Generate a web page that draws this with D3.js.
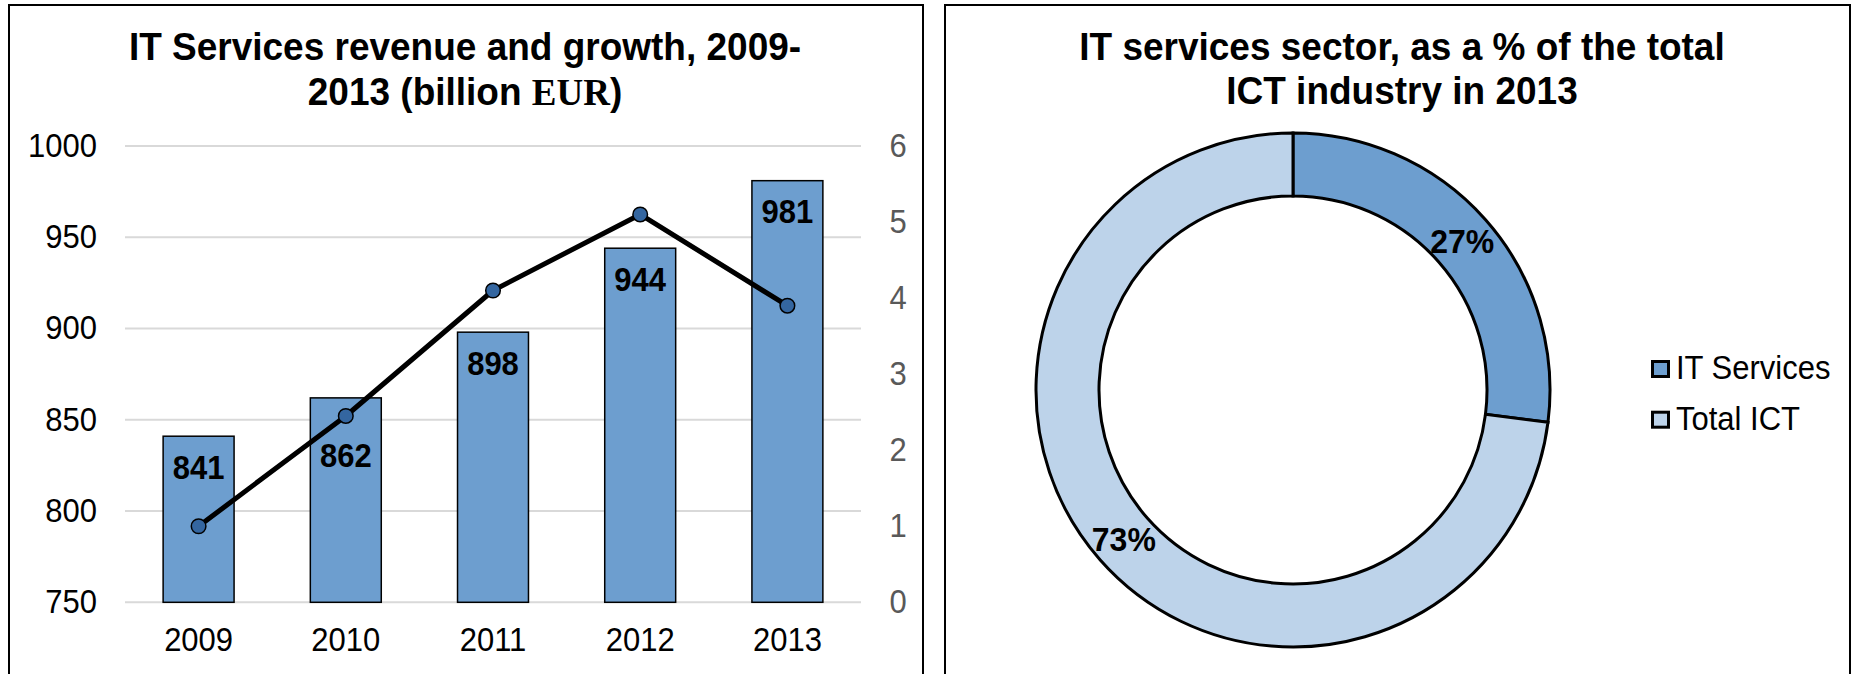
<!DOCTYPE html>
<html>
<head>
<meta charset="utf-8">
<script src="https://cdn.jsdelivr.net/npm/d3@7"></script>
<style>
  html, body { margin: 0; padding: 0; background: #fff; }
  svg { display: block; font-family: "Liberation Sans", Arial, sans-serif; }
</style>
</head>
<body>
<svg id="chart" width="1855" height="674"></svg>
<script>
// ---- Data ----
const years = ["2009", "2010", "2011", "2012", "2013"];
const revenue = [841, 862, 898, 944, 981];
const growth = [1.0, 2.45, 4.1, 5.1, 3.9];
const leftTicks = [750, 800, 850, 900, 950, 1000];
const rightTicks = [0, 1, 2, 3, 4, 5, 6];
const shareLabels = ["IT Services", "Total ICT"];
const shareValues = [27, 73];

const svg = d3.select("#chart");

// ---- Panel borders ----
svg.append("rect").attr("x", 9).attr("y", 5).attr("width", 914).attr("height", 720)
  .attr("fill", "none").attr("stroke", "#000").attr("stroke-width", 2);
svg.append("rect").attr("x", 945).attr("y", 5).attr("width", 905).attr("height", 720)
  .attr("fill", "none").attr("stroke", "#000").attr("stroke-width", 2);

// ---- Left chart ----
const x = d3.scaleBand().domain(years).range([125, 861]).paddingInner(0.518).paddingOuter(0.259);
const yL = d3.scaleLinear().domain([750, 1000]).range([602.3, 146]);
const yR = d3.scaleLinear().domain([0, 6]).range([602.3, 146]);

const title1 = svg.append("text").attr("x", 465).attr("text-anchor", "middle")
  .attr("font-weight", "bold").attr("font-size", 37).attr("fill", "#000");
title1.append("tspan").attr("x", 465).attr("y", 60).text("IT Services revenue and growth, 2009-");
const t2 = title1.append("tspan").attr("x", 465).attr("y", 103);
t2.append("tspan").text("2013 (billion ");
t2.append("tspan").attr("font-family", "'Liberation Serif', 'Times New Roman', serif").text("EUR");
t2.append("tspan").text(")");

// gridlines
svg.append("g").selectAll("line").data(leftTicks).join("line")
  .attr("x1", 125).attr("x2", 861)
  .attr("y1", d => yL(d)).attr("y2", d => yL(d))
  .attr("stroke", "#d9d9d9").attr("stroke-width", 2);

// left axis labels
const axL = svg.append("g").attr("transform", "translate(125,0)")
  .call(d3.axisLeft(yL).tickValues(leftTicks).tickSize(0).tickPadding(28).tickFormat(d3.format("d")));
axL.select(".domain").remove();
axL.selectAll("text").attr("font-size", 31).attr("fill", "#000")
  .attr("font-family", "'Liberation Sans', Arial, sans-serif");

// right axis labels
const axR = svg.append("g").attr("transform", "translate(861,0)")
  .call(d3.axisRight(yR).tickValues(rightTicks).tickSize(0).tickPadding(37).tickFormat(d3.format("d")));
axR.select(".domain").remove();
axR.selectAll("text").attr("font-size", 31).attr("fill", "#595959").attr("text-anchor", "middle")
  .attr("font-family", "'Liberation Sans', Arial, sans-serif");

// x axis labels
const axX = svg.append("g").attr("transform", "translate(0,602.3)")
  .call(d3.axisBottom(x).tickSize(0).tickPadding(26));
axX.select(".domain").remove();
axX.selectAll("text").attr("font-size", 31).attr("fill", "#000")
  .attr("font-family", "'Liberation Sans', Arial, sans-serif");

const rows = years.map((y, i) => ({ year: y, rev: revenue[i], g: growth[i] }));

// bars
svg.append("g").selectAll("rect").data(rows).join("rect")
  .attr("x", d => x(d.year)).attr("width", x.bandwidth())
  .attr("y", d => yL(d.rev)).attr("height", d => yL(750) - yL(d.rev))
  .attr("fill", "#6d9ecf").attr("stroke", "#000").attr("stroke-width", 1.5);

// bar labels (pushed below the growth marker where they would collide)
svg.append("g").selectAll("text").data(rows).join("text")
  .attr("x", d => x(d.year) + x.bandwidth() / 2)
  .attr("y", d => {
    const base = yL(d.rev) + 42;
    const my = yR(d.g);
    return (my > base - 30 && my < base + 8) ? my + 51 : base;
  })
  .attr("text-anchor", "middle").attr("font-weight", "bold").attr("font-size", 31)
  .attr("fill", "#000").text(d => d.rev);

// growth line
const line = d3.line().x(d => x(d.year) + x.bandwidth() / 2).y(d => yR(d.g));
svg.append("path").datum(rows).attr("d", line)
  .attr("fill", "none").attr("stroke", "#000").attr("stroke-width", 5).attr("stroke-linejoin", "round");
svg.append("g").selectAll("circle").data(rows).join("circle")
  .attr("cx", d => x(d.year) + x.bandwidth() / 2).attr("cy", d => yR(d.g)).attr("r", 7.3)
  .attr("fill", "#3466a0").attr("stroke", "#000").attr("stroke-width", 1.5);

// ---- Right chart ----
const title2 = svg.append("text").attr("text-anchor", "middle")
  .attr("font-weight", "bold").attr("font-size", 37).attr("fill", "#000");
title2.append("tspan").attr("x", 1402).attr("y", 60).text("IT services sector, as a % of the total");
title2.append("tspan").attr("x", 1402).attr("y", 102).text("ICT industry in 2013");

const colors = d3.scaleOrdinal().domain(shareLabels).range(["#6d9ecf", "#bdd3ea"]);
const pieData = d3.pie().sort(null).value(d => d.v)(shareLabels.map((k, i) => ({ k, v: shareValues[i] })));
const arc = d3.arc().innerRadius(194).outerRadius(257);
const donut = svg.append("g").attr("transform", "translate(1293,390)");
donut.selectAll("path").data(pieData).join("path")
  .attr("d", arc).attr("fill", d => colors(d.data.k))
  .attr("stroke", "#000").attr("stroke-width", 3);
donut.selectAll("text").data(pieData).join("text")
  .attr("transform", d => `translate(${arc.centroid(d)})`)
  .attr("text-anchor", "middle").attr("dy", "0.36em")
  .attr("font-weight", "bold").attr("font-size", 32).attr("fill", "#000")
  .text(d => d.data.v + "%");

// legend
const leg = svg.append("g").selectAll("g").data(shareLabels).join("g")
  .attr("transform", (d, i) => `translate(1651,${360 + i * 50.7})`);
leg.append("rect").attr("x", 1.5).attr("y", 1.5).attr("width", 16).attr("height", 15)
  .attr("fill", d => colors(d)).attr("stroke", "#000").attr("stroke-width", 3);
leg.append("text").attr("x", 25).attr("y", 18.5).attr("font-size", 31).attr("fill", "#000").text(d => d);

// slight vertical stretch of all text, as in the reference rendering
svg.selectAll("text").each(function () {
  const b = this.getBBox();
  const cy = b.y + b.height / 2;
  const prev = this.getAttribute("transform") || "";
  this.setAttribute("transform", `${prev} translate(0,${cy}) scale(1,1.05) translate(0,${-cy})`);
});
</script>
</body>
</html>
